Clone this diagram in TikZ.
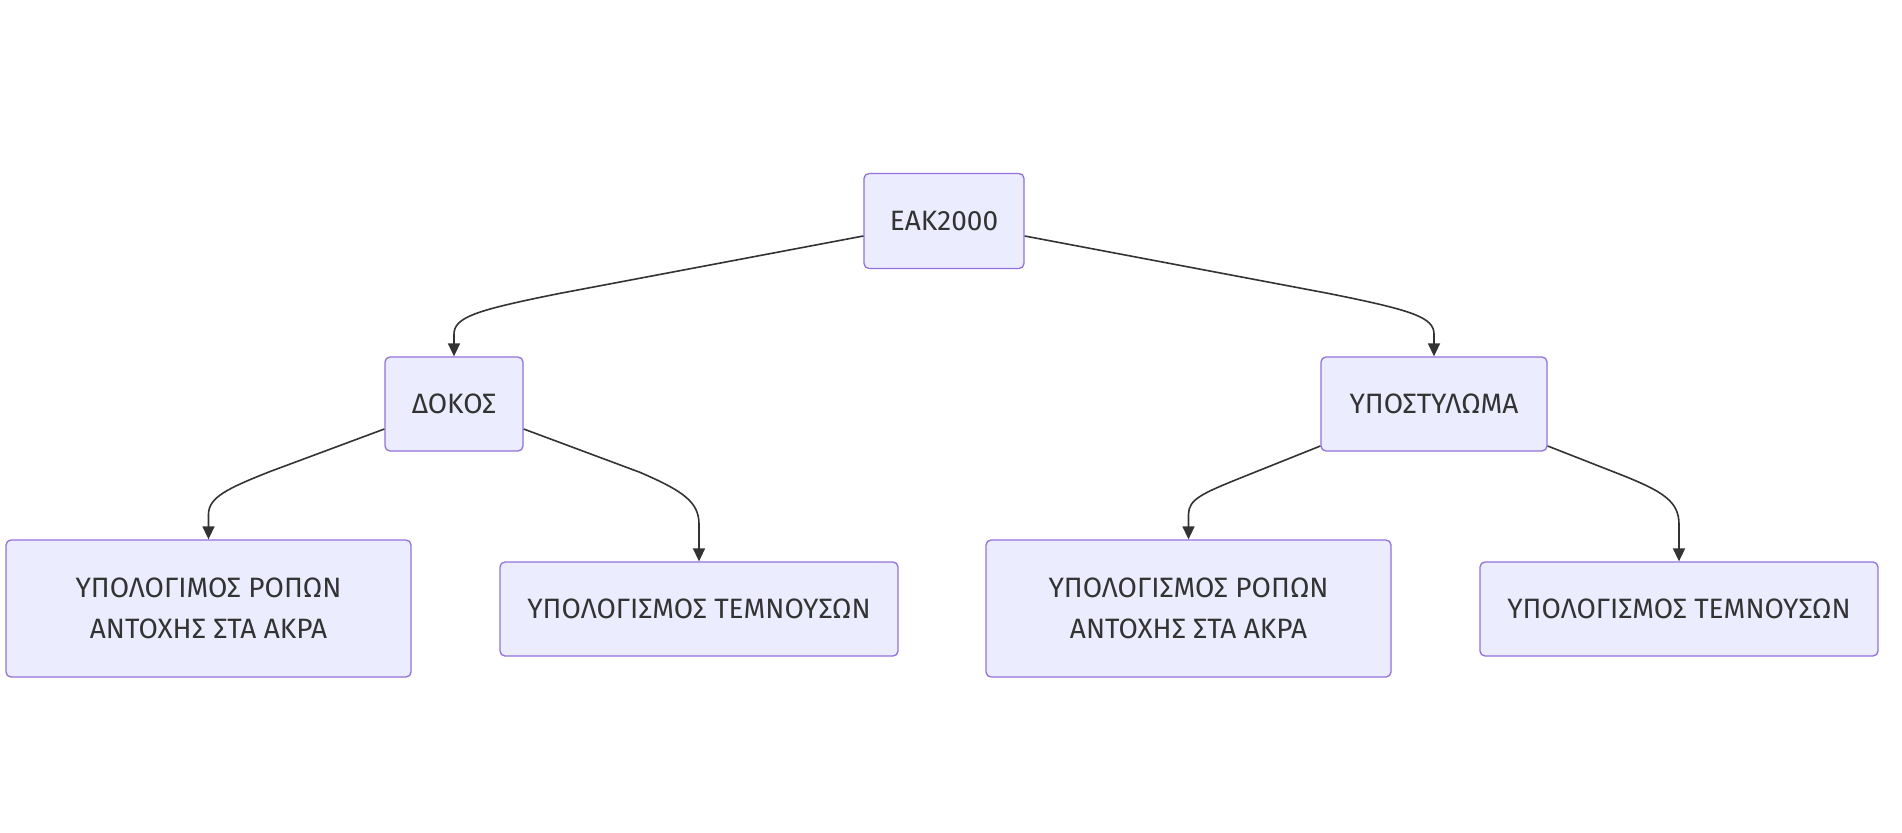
\documentclass[tikz,border=0pt]{standalone}
\usepackage{fontspec}
\setmainfont{Fira Sans}
\usetikzlibrary{calc,arrows.meta}
\definecolor{boxfill}{HTML}{ECECFF}
\definecolor{boxdraw}{HTML}{9370DB}
\definecolor{ink}{HTML}{333333}
\tikzset{
  box/.style={draw=boxdraw, fill=boxfill, line width=1.3pt, rounded corners=5pt,
    text=ink, align=center, font=\fontsize{28}{41}\selectfont, inner sep=0pt},
  edge/.style={draw=ink, line width=1.6pt, -{Triangle[length=13pt,width=12pt]}}
}
\begin{document}
\begin{tikzpicture}[x=1pt,y=-1pt]
\useasboundingbox (0,0) rectangle (1902,832);
\node[box, minimum width=160pt, minimum height=95pt] (eak) at (944,221) {ΕΑΚ2000};
\node[box, minimum width=138pt, minimum height=94pt] (dokos) at (454,404) {ΔΟΚΟΣ};
\node[box, minimum width=226pt, minimum height=94pt] (ypo) at (1434,404) {ΥΠΟΣΤΥΛΩΜΑ};
\node[box, minimum width=405pt, minimum height=137pt] (b1) at (208.5,608.5) {ΥΠΟΛΟΓΙΜΟΣ ΡΟΠΩΝ\\ ΑΝΤΟΧΗΣ ΣΤΑ ΑΚΡΑ};
\node[box, minimum width=398pt, minimum height=94pt] (b2) at (699,609) {ΥΠΟΛΟΓΙΣΜΟΣ ΤΕΜΝΟΥΣΩΝ};
\node[box, minimum width=405pt, minimum height=137pt] (b3) at (1188.5,608.5) {ΥΠΟΛΟΓΙΣΜΟΣ ΡΟΠΩΝ\\ ΑΝΤΟΧΗΣ ΣΤΑ ΑΚΡΑ};
\node[box, minimum width=398pt, minimum height=94pt] (b4) at (1679,609) {ΥΠΟΛΟΓΙΣΜΟΣ ΤΕΜΝΟΥΣΩΝ};

\draw[edge] ([yshift=-15pt]eak.west) -- ($(dokos.north)+(106,-63)$)
  .. controls ($(dokos.north)+(21,-46)$) and ($(dokos.north)+(0,-39)$) .. ($(dokos.north)+(0,-22)$) -- (dokos.north);
\draw[edge] ([yshift=-15pt]eak.east) -- ($(ypo.north)+(-106,-63)$)
  .. controls ($(ypo.north)+(-21,-46)$) and ($(ypo.north)+(0,-39)$) .. ($(ypo.north)+(0,-22)$) -- (ypo.north);
\draw[edge] ([yshift=-25pt]dokos.west) -- ($(b1.north)+(62,-68)$)
  .. controls ($(b1.north)+(19,-51)$) and ($(b1.north)+(0,-42)$) .. ($(b1.north)+(0,-25)$) -- (b1.north);
\draw[edge] ([yshift=-25pt]dokos.east) -- ($(b2.north)+(-59,-89)$)
  .. controls ($(b2.north)+(-15,-70)$) and ($(b2.north)+(0,-59)$) .. ($(b2.north)+(0,-37)$) -- (b2.north);
\draw[edge] ([yshift=-42pt]ypo.west) -- ($(b3.north)+(51,-61)$)
  .. controls ($(b3.north)+(14,-46)$) and ($(b3.north)+(0,-40)$) .. ($(b3.north)+(0,-25)$) -- (b3.north);
\draw[edge] ([yshift=-42pt]ypo.east) -- ($(b4.north)+(-59,-87)$)
  .. controls ($(b4.north)+(-16,-70)$) and ($(b4.north)+(0,-60)$) .. ($(b4.north)+(0,-37)$) -- (b4.north);
\end{tikzpicture}
\end{document}
